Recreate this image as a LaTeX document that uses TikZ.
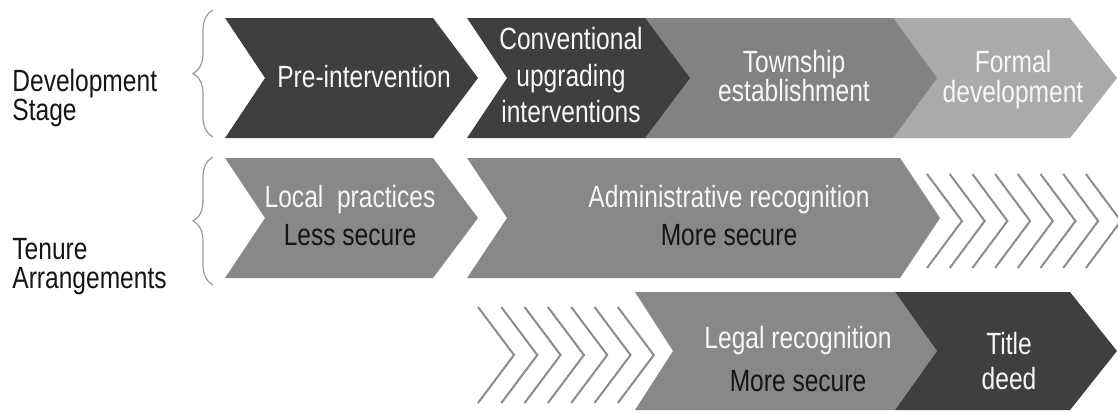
\documentclass[tikz,border=0pt]{standalone}
\usepackage{fontspec}
\setmainfont{Liberation Sans}[FakeStretch=0.8]
\usetikzlibrary{decorations.pathreplacing}

\definecolor{darkstage}{HTML}{3F3F3F}
\definecolor{midstage}{HTML}{888888}
\definecolor{townstage}{HTML}{828282}
\definecolor{lightstage}{HTML}{AAAAAA}
\definecolor{hatchgray}{HTML}{8C8C8C}
\definecolor{bracegray}{HTML}{9A9A9A}
\definecolor{ink}{HTML}{151515}
\definecolor{paper}{HTML}{F7F7F7}

\begin{document}
\begin{tikzpicture}[x=0.5pt, y=-0.5pt, inner sep=0pt,
    chevtext/.style={text=paper, align=center, font=\fontsize{15.35}{#1}\selectfont},
    chevtext/.default=14.6,
    heading/.style={text=ink, align=left, anchor=west, font=\fontsize{15.35}{14.6}\selectfont},
    bracket/.style={draw=bracegray, line width=0.6pt, decorate, decoration={brace, amplitude=10pt}},
    hatch/.style={draw=hatchgray, line width=1pt}]
    \useasboundingbox (0,0) rectangle (1118,412);

    % Development stage chevrons (lighter ones first, darker tips on top)
    \fill[lightstage] (893,18) -- (1070,18) -- (1117,78) -- (1070,138) -- (893,138) -- cycle;
    \fill[townstage] (645,18) -- (893,18) -- (937,78) -- (893,138) -- (645,138) -- cycle;
    \fill[darkstage] (467,18) -- (645,18) -- (690,78) -- (645,138) -- (467,138) -- (507,78) -- cycle;
    \fill[darkstage] (225,18) -- (433,18) -- (478,78) -- (433,138) -- (225,138) -- (265,78) -- cycle;

    % Tenure chevrons
    \fill[midstage] (225,158) -- (433,158) -- (478,218) -- (433,278) -- (225,278) -- (265,218) -- cycle;
    \fill[midstage] (467,158) -- (900,158) -- (940,218) -- (900,278) -- (467,278) -- (507,218) -- cycle;
    \fill[darkstage] (895,292) -- (1070,292) -- (1117,351) -- (1070,410) -- (895,410) -- cycle;
    \fill[midstage] (635,292) -- (895,292) -- (937,351) -- (895,410) -- (635,410) -- (673,351) -- cycle;

    % Open chevrons
    \foreach \i in {0,...,7}
        \draw[hatch] (927+22.7*\i,174) -- ++(35,47) -- ++(-35,47);
    \foreach \i in {0,...,6}
        \draw[hatch] (478+23.3*\i,307) -- ++(36,48) -- ++(-36,48);

    % Labels
    \node[heading] (stage) at (12,98) {Development\\Stage};
    \node[heading] (tenure) at (12,267) {Tenure\\Arrangements};
    \draw[bracket] (213,137) -- (213,10);
    \draw[bracket] (213,285) -- (213,157);

    \node[chevtext] (pre) at (364,76.8) {Pre-intervention};
    \node[chevtext=18.25] (conv) at (571,75.3) {Conventional\\upgrading\\interventions};
    \node[chevtext] (town) at (794,76.3) {Township\\establishment};
    \node[chevtext] (formal) at (1013,79.5) {Formal\\development};
    \node[chevtext=19] (local) at (350,215.8) {Local~~practices\\\textcolor{ink}{Less secure}};
    \node[chevtext=19] (admin) at (729,215.8) {Administrative recognition\\\textcolor{ink}{More secure}};
    \node[chevtext=21.5] (legal) at (798,359.3) {Legal recognition\\\textcolor{ink}{More secure}};
    \node[chevtext=17.5] (title) at (1009,361.3) {Title\\deed};
\end{tikzpicture}
\end{document}
